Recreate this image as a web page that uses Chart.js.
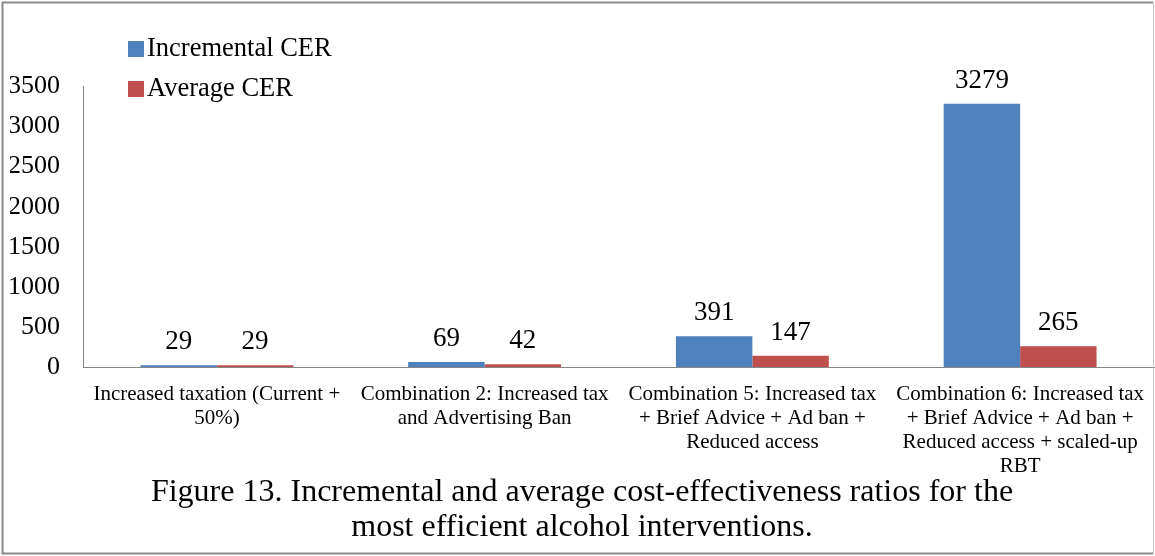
<!DOCTYPE html>
<html>
<head>
<meta charset="utf-8">
<script src="https://cdn.jsdelivr.net/npm/chart.js@4.4.0/dist/chart.umd.min.js"></script>
<style>
  html, body { margin: 0; padding: 0; background: #fff; }
  #wrap { width: 1155px; height: 556px; position: relative; }
</style>
</head>
<body>
<div id="wrap"><canvas id="cerChart" width="1155" height="556"></canvas></div>
<script>
const categories = [
  ["Increased taxation (Current +", "50%)"],
  ["Combination 2: Increased tax", "and Advertising Ban"],
  ["Combination 5: Increased tax", "+ Brief Advice + Ad ban +", "Reduced access"],
  ["Combination 6: Increased tax", "+ Brief Advice + Ad ban +", "Reduced access + scaled-up", "RBT"]
];
const incrementalCER = [29, 69, 391, 3279];
const averageCER = [29, 42, 147, 265];
const yTicks = [0, 500, 1000, 1500, 2000, 2500, 3000, 3500];
const titleLines = [
  "Figure 13. Incremental and average cost-effectiveness ratios for the",
  "most efficient alcohol interventions."
];

const SERIF = "'Liberation Serif', 'Times New Roman', serif";
const AXIS_GREY = "#868686";

// value printed above each bar
const valueLabels = {
  id: "valueLabels",
  afterDatasetsDraw(chart) {
    const ctx = chart.ctx;
    ctx.save();
    ctx.font = "27px " + SERIF;
    ctx.fillStyle = "#000";
    ctx.textAlign = "center";
    ctx.textBaseline = "alphabetic";
    chart.data.datasets.forEach((ds, i) => {
      chart.getDatasetMeta(i).data.forEach((bar, j) => {
        ctx.fillText(String(ds.data[j]), bar.x, bar.y - 16);
      });
    });
    ctx.restore();
  }
};

// stacked legend sitting in the top-left corner
const cornerLegend = {
  id: "cornerLegend",
  afterDraw(chart) {
    const ctx = chart.ctx;
    ctx.save();
    ctx.font = "26.5px " + SERIF;
    ctx.textBaseline = "middle";
    ctx.textAlign = "left";
    chart.data.datasets.forEach((ds, i) => {
      const y = 49 + i * 40;
      ctx.fillStyle = ds.backgroundColor;
      ctx.fillRect(128, y - 8, 16, 16);
      ctx.fillStyle = "#000";
      ctx.fillText(ds.label, 147, y);
    });
    ctx.restore();
  }
};

// thin frame around the whole figure
const frame = {
  id: "frame",
  afterDraw(chart) {
    const ctx = chart.ctx;
    ctx.save();
    ctx.strokeStyle = "#8a8a8a";
    ctx.lineWidth = 2;
    ctx.beginPath();
    ctx.moveTo(1153, 2.5); ctx.lineTo(2.5, 2.5); ctx.lineTo(2.5, 553.5); ctx.lineTo(1153, 553.5);
    ctx.stroke();
    ctx.strokeStyle = "#c8c8c8";
    ctx.lineWidth = 1;
    ctx.beginPath();
    ctx.moveTo(1153.5, 2); ctx.lineTo(1153.5, 554);
    ctx.stroke();
    ctx.restore();
  }
};

new Chart(document.getElementById("cerChart"), {
  type: "bar",
  data: {
    labels: categories,
    datasets: [
      { label: "Incremental CER", data: incrementalCER, backgroundColor: "#4F81BD" },
      { label: "Average CER", data: averageCER, backgroundColor: "#C0504D" }
    ]
  },
  options: {
    responsive: false,
    animation: false,
    devicePixelRatio: 1,
    categoryPercentage: 0.571,
    barPercentage: 1,
    layout: { padding: { left: 10, right: 1, top: 86, bottom: 0 } },
    plugins: {
      legend: { display: false },
      tooltip: { enabled: false },
      title: {
        display: true,
        position: "bottom",
        text: titleLines,
        color: "#000",
        font: { family: SERIF, size: 32, weight: "normal", lineHeight: 1.1 },
        padding: { top: 0, bottom: 11 }
      }
    },
    scales: {
      x: {
        grid: { display: true, drawOnChartArea: false, drawTicks: false },
        border: { display: true, color: AXIS_GREY, width: 1 },
        ticks: {
          color: "#000",
          font: { family: SERIF, size: 21, lineHeight: 1.14 },
          padding: 15,
          maxRotation: 0,
          minRotation: 0,
          autoSkip: false
        },
        afterFit(scale) {
          scale.height = 107;
          // labels fit inside their categories, no extra side room needed
          scale.paddingLeft = 0;
          scale.paddingRight = 0;
        }
      },
      y: {
        min: 0,
        max: 3500,
        grid: { display: true, drawOnChartArea: false, drawTicks: false },
        border: { display: true, color: AXIS_GREY, width: 1 },
        ticks: {
          color: "#000",
          font: { family: SERIF, size: 26 },
          padding: 23,
          callback: v => String(v)
        },
        afterBuildTicks(scale) { scale.ticks = yTicks.map(v => ({ value: v })); },
        afterFit(scale) { scale.width = 73; }
      }
    }
  },
  plugins: [valueLabels, cornerLegend, frame]
});
</script>
</body>
</html>
